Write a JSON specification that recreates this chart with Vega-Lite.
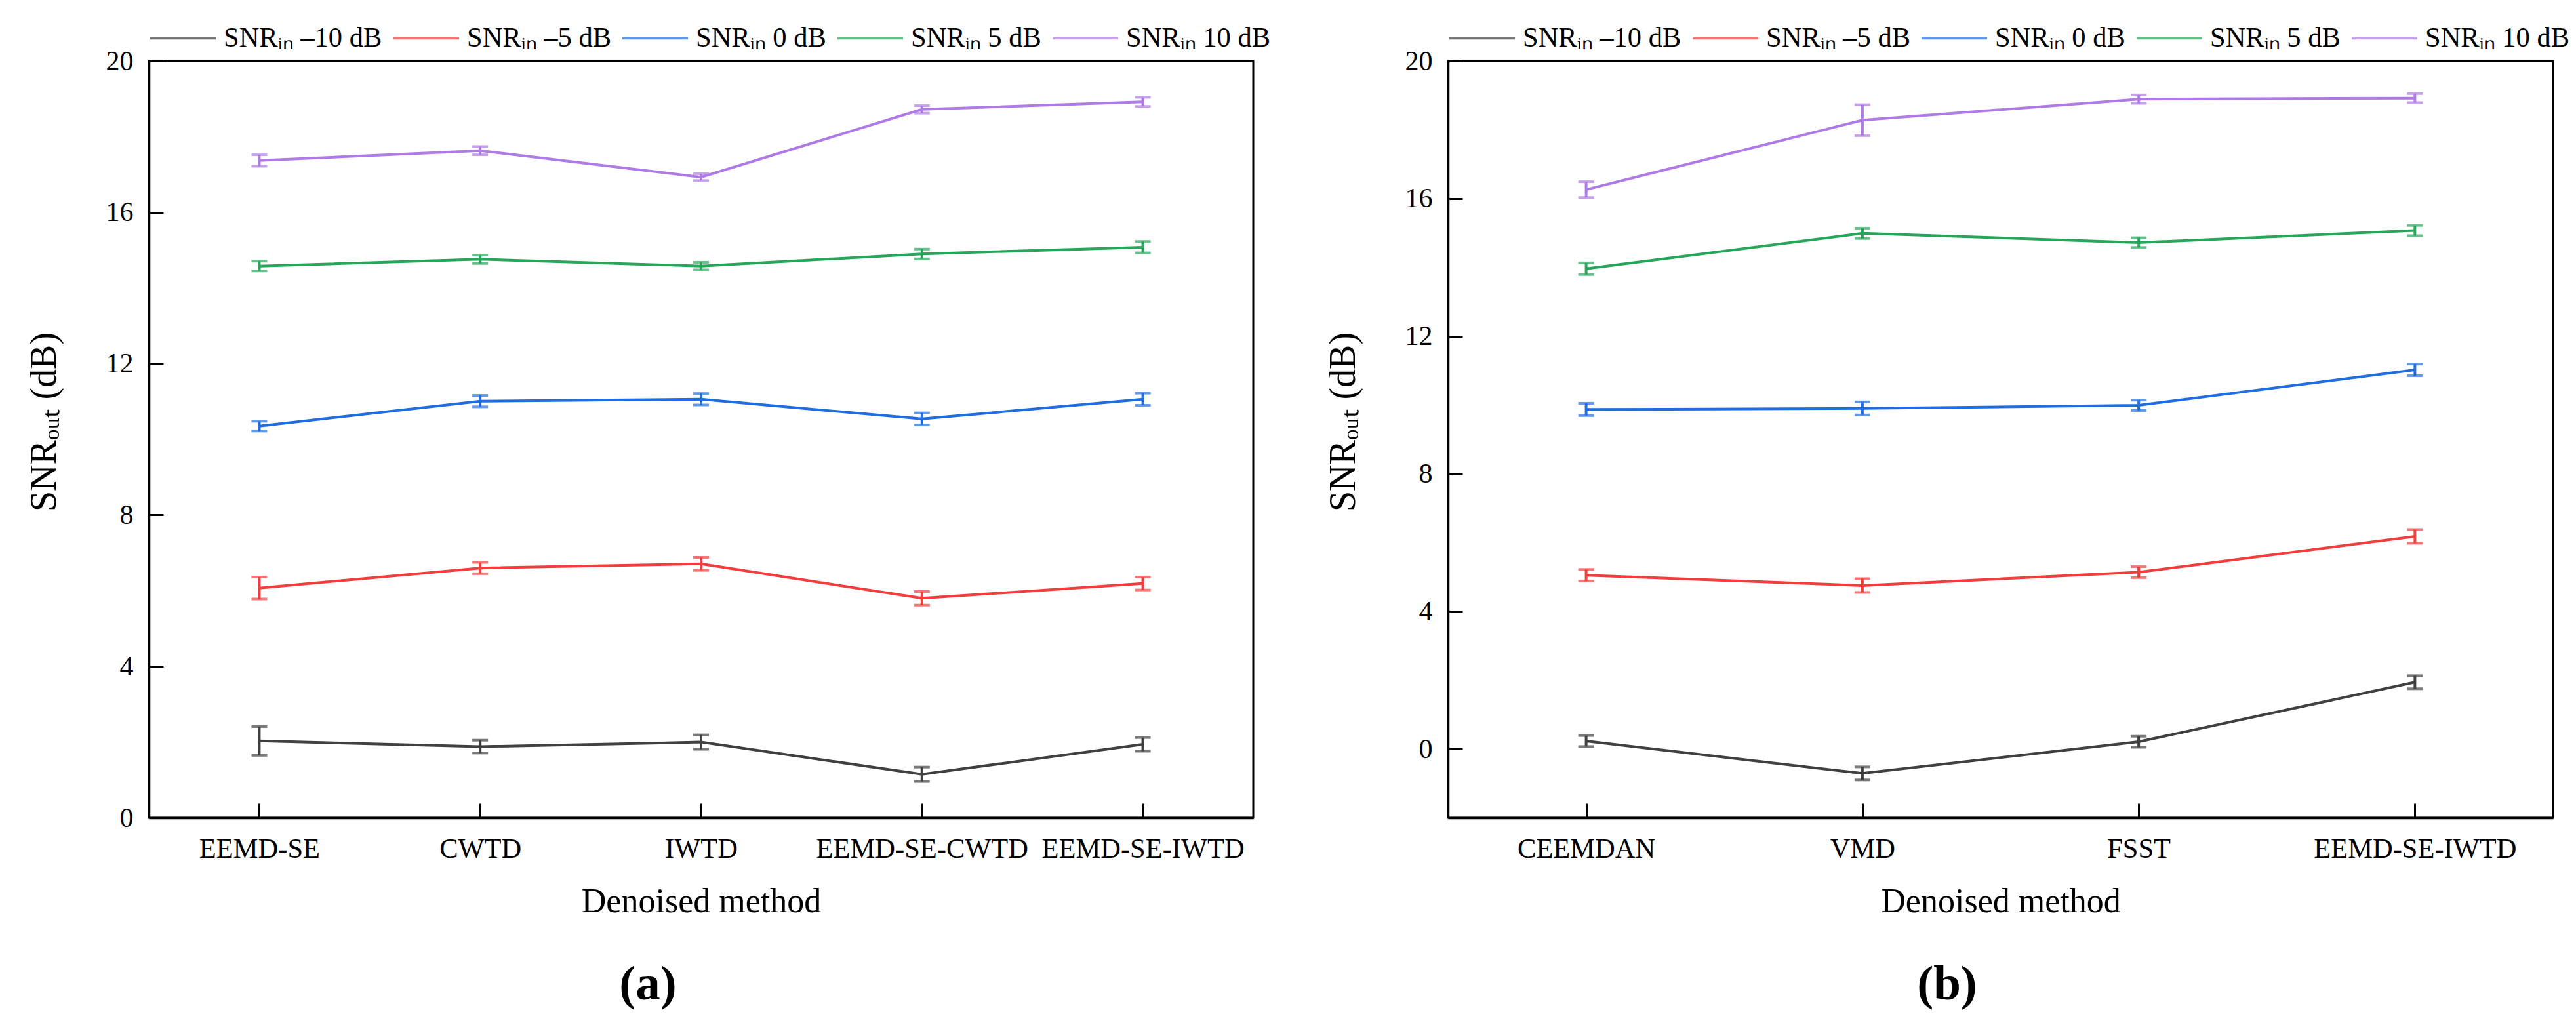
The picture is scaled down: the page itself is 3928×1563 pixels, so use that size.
{
  "$schema": "https://vega.github.io/schema/vega-lite/v6.json",
  "background": "white",
  "padding": {"left": 37, "top": 4, "right": 0, "bottom": 0},
  "bounds": "flush",
  "spacing": 297,
  "datasets": {
    "panelA": [
      {"method": "EEMD-SE", "series": "SNRᵢₙ –10 dB", "snr": 2.03, "err": 0.38},
      {"method": "CWTD", "series": "SNRᵢₙ –10 dB", "snr": 1.88, "err": 0.17},
      {"method": "IWTD", "series": "SNRᵢₙ –10 dB", "snr": 2.0, "err": 0.19},
      {"method": "EEMD-SE-CWTD", "series": "SNRᵢₙ –10 dB", "snr": 1.15, "err": 0.19},
      {"method": "EEMD-SE-IWTD", "series": "SNRᵢₙ –10 dB", "snr": 1.94, "err": 0.18},
      {"method": "EEMD-SE", "series": "SNRᵢₙ –5 dB", "snr": 6.07, "err": 0.29},
      {"method": "CWTD", "series": "SNRᵢₙ –5 dB", "snr": 6.6, "err": 0.15},
      {"method": "IWTD", "series": "SNRᵢₙ –5 dB", "snr": 6.71, "err": 0.17},
      {"method": "EEMD-SE-CWTD", "series": "SNRᵢₙ –5 dB", "snr": 5.8, "err": 0.18},
      {"method": "EEMD-SE-IWTD", "series": "SNRᵢₙ –5 dB", "snr": 6.19, "err": 0.17},
      {"method": "EEMD-SE", "series": "SNRᵢₙ 0 dB", "snr": 10.35, "err": 0.13},
      {"method": "CWTD", "series": "SNRᵢₙ 0 dB", "snr": 11.01, "err": 0.15},
      {"method": "IWTD", "series": "SNRᵢₙ 0 dB", "snr": 11.06, "err": 0.15},
      {"method": "EEMD-SE-CWTD", "series": "SNRᵢₙ 0 dB", "snr": 10.54, "err": 0.16},
      {"method": "EEMD-SE-IWTD", "series": "SNRᵢₙ 0 dB", "snr": 11.06, "err": 0.16},
      {"method": "EEMD-SE", "series": "SNRᵢₙ 5 dB", "snr": 14.58, "err": 0.13},
      {"method": "CWTD", "series": "SNRᵢₙ 5 dB", "snr": 14.76, "err": 0.11},
      {"method": "IWTD", "series": "SNRᵢₙ 5 dB", "snr": 14.58, "err": 0.1},
      {"method": "EEMD-SE-CWTD", "series": "SNRᵢₙ 5 dB", "snr": 14.9, "err": 0.13},
      {"method": "EEMD-SE-IWTD", "series": "SNRᵢₙ 5 dB", "snr": 15.08, "err": 0.15},
      {"method": "EEMD-SE", "series": "SNRᵢₙ 10 dB", "snr": 17.37, "err": 0.15},
      {"method": "CWTD", "series": "SNRᵢₙ 10 dB", "snr": 17.63, "err": 0.11},
      {"method": "IWTD", "series": "SNRᵢₙ 10 dB", "snr": 16.93, "err": 0.09},
      {"method": "EEMD-SE-CWTD", "series": "SNRᵢₙ 10 dB", "snr": 18.72, "err": 0.1},
      {"method": "EEMD-SE-IWTD", "series": "SNRᵢₙ 10 dB", "snr": 18.92, "err": 0.12}
    ],
    "panelB": [
      {"method": "CEEMDAN", "series": "SNRᵢₙ –10 dB", "snr": 0.23, "err": 0.16},
      {"method": "VMD", "series": "SNRᵢₙ –10 dB", "snr": -0.71, "err": 0.19},
      {"method": "FSST", "series": "SNRᵢₙ –10 dB", "snr": 0.21, "err": 0.16},
      {"method": "EEMD-SE-IWTD", "series": "SNRᵢₙ –10 dB", "snr": 1.94, "err": 0.19},
      {"method": "CEEMDAN", "series": "SNRᵢₙ –5 dB", "snr": 5.05, "err": 0.17},
      {"method": "VMD", "series": "SNRᵢₙ –5 dB", "snr": 4.75, "err": 0.2},
      {"method": "FSST", "series": "SNRᵢₙ –5 dB", "snr": 5.14, "err": 0.16},
      {"method": "EEMD-SE-IWTD", "series": "SNRᵢₙ –5 dB", "snr": 6.18, "err": 0.2},
      {"method": "CEEMDAN", "series": "SNRᵢₙ 0 dB", "snr": 9.87, "err": 0.18},
      {"method": "VMD", "series": "SNRᵢₙ 0 dB", "snr": 9.9, "err": 0.19},
      {"method": "FSST", "series": "SNRᵢₙ 0 dB", "snr": 9.99, "err": 0.15},
      {"method": "EEMD-SE-IWTD", "series": "SNRᵢₙ 0 dB", "snr": 11.02, "err": 0.17},
      {"method": "CEEMDAN", "series": "SNRᵢₙ 5 dB", "snr": 13.96, "err": 0.17},
      {"method": "VMD", "series": "SNRᵢₙ 5 dB", "snr": 14.99, "err": 0.15},
      {"method": "FSST", "series": "SNRᵢₙ 5 dB", "snr": 14.72, "err": 0.14},
      {"method": "EEMD-SE-IWTD", "series": "SNRᵢₙ 5 dB", "snr": 15.07, "err": 0.15},
      {"method": "CEEMDAN", "series": "SNRᵢₙ 10 dB", "snr": 16.26, "err": 0.23},
      {"method": "VMD", "series": "SNRᵢₙ 10 dB", "snr": 18.28, "err": 0.45},
      {"method": "FSST", "series": "SNRᵢₙ 10 dB", "snr": 18.89, "err": 0.12},
      {"method": "EEMD-SE-IWTD", "series": "SNRᵢₙ 10 dB", "snr": 18.92, "err": 0.13}
    ]
  },
  "config": {
    "font": "Liberation Serif",
    "view": {"stroke": "black", "strokeWidth": 3},
    "axis": {
      "grid": false,
      "labelFont": "Liberation Serif",
      "titleFont": "Liberation Serif",
      "labelColor": "black",
      "titleColor": "black",
      "labelFontSize": 42.5,
      "labelLimit": 0,
      "titleFontSize": 52,
      "titleFontWeight": "normal",
      "domainColor": "black",
      "domainWidth": 3.5,
      "tickColor": "black",
      "tickWidth": 3,
      "tickSize": -22
    },
    "legend": {
      "orient": "top",
      "direction": "horizontal",
      "columns": 5,
      "title": null,
      "labelFont": "Liberation Serif",
      "labelFontSize": 42.5,
      "labelColor": "black",
      "labelLimit": 400,
      "labelOffset": 10,
      "columnPadding": 9,
      "symbolType": "stroke",
      "symbolSize": 10000,
      "symbolStrokeWidth": 4,
      "padding": 0,
      "offset": 13
    },
    "title": {"font": "Liberation Serif", "color": "black"}
  },
  "resolve": {"scale": {"color": "independent"}, "legend": {"color": "independent"}},
  "hconcat": [
    {
      "width": 1684,
      "height": 1154,
      "title": {"text": "(a)", "orient": "bottom", "frame": "bounds", "anchor": "middle", "fontSize": 75, "fontWeight": "bold", "offset": 64},
      "data": {"name": "panelA"},
      "encoding": {
        "x": {
          "field": "method",
          "type": "nominal",
          "sort": ["EEMD-SE", "CWTD", "IWTD", "EEMD-SE-CWTD", "EEMD-SE-IWTD"],
          "scale": {"type": "point", "padding": 0.5},
          "axis": {"title": "Denoised method", "labelAngle": 0, "labelPadding": 48, "titlePadding": 34}
        },
        "y": {
          "field": "snr",
          "type": "quantitative",
          "scale": {"domain": [0, 20], "nice": false, "zero": false},
          "axis": {"title": "SNRₒᵤₜ (dB)", "titleFontSize": 56, "titleY": 550, "values": [0, 4, 8, 12, 16, 20], "labelFontSize": 42, "labelPadding": 46, "titlePadding": 65}
        },
        "color": {
          "field": "series",
          "type": "nominal",
          "scale": {
            "domain": ["SNRᵢₙ –10 dB", "SNRᵢₙ –5 dB", "SNRᵢₙ 0 dB", "SNRᵢₙ 5 dB", "SNRᵢₙ 10 dB"],
            "range": ["#404040", "#f23d3d", "#1f6de0", "#27a65b", "#ae7be6"]
          }
        }
      },
      "layer": [
        {"mark": {"type": "line", "strokeWidth": 4}},
        {
          "mark": {"type": "errorbar", "thickness": 4, "ticks": {"size": 24, "thickness": 4}},
          "encoding": {"yError": {"field": "err"}}
        }
      ]
    },
    {
      "width": 1685,
      "height": 1154,
      "title": {"text": "(b)", "orient": "bottom", "frame": "bounds", "anchor": "middle", "fontSize": 75, "fontWeight": "bold", "offset": 64},
      "data": {"name": "panelB"},
      "encoding": {
        "x": {
          "field": "method",
          "type": "nominal",
          "sort": ["CEEMDAN", "VMD", "FSST", "EEMD-SE-IWTD"],
          "scale": {"type": "point", "padding": 0.5},
          "axis": {"title": "Denoised method", "labelAngle": 0, "labelPadding": 48, "titlePadding": 34}
        },
        "y": {
          "field": "snr",
          "type": "quantitative",
          "scale": {"domain": [-2, 20], "nice": false, "zero": false},
          "axis": {"title": "SNRₒᵤₜ (dB)", "titleFontSize": 56, "titleY": 550, "values": [0, 4, 8, 12, 16, 20], "labelFontSize": 42, "labelPadding": 46, "titlePadding": 65}
        },
        "color": {
          "field": "series",
          "type": "nominal",
          "scale": {
            "domain": ["SNRᵢₙ –10 dB", "SNRᵢₙ –5 dB", "SNRᵢₙ 0 dB", "SNRᵢₙ 5 dB", "SNRᵢₙ 10 dB"],
            "range": ["#404040", "#f23d3d", "#1f6de0", "#27a65b", "#ae7be6"]
          }
        }
      },
      "layer": [
        {"mark": {"type": "line", "strokeWidth": 4}},
        {
          "mark": {"type": "errorbar", "thickness": 4, "ticks": {"size": 24, "thickness": 4}},
          "encoding": {"yError": {"field": "err"}}
        }
      ]
    }
  ]
}
